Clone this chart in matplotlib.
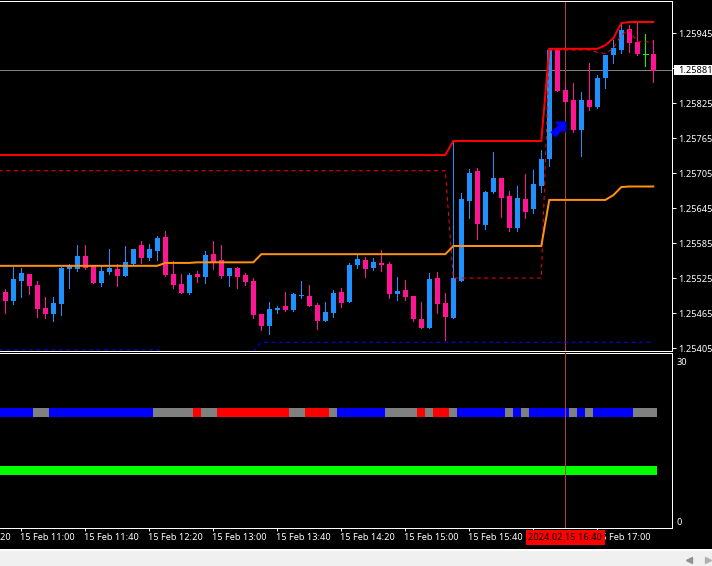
import numpy as np
import matplotlib
matplotlib.use("Agg")
import matplotlib.pyplot as plt
from matplotlib.patches import Rectangle
from matplotlib.path import Path
from matplotlib.transforms import blended_transform_factory

# prices are in points above 1.25000
base = 1.25

highs = [506, 544, 543, 532, 520, 492, 492, 544, 549, 582, 582, 546, 546, 575, 549, 580, 575, 588, 583, 597,
         606, 554, 532, 534, 537, 571, 588, 582, 542, 544, 534, 525, 463, 484, 477, 501, 499, 520, 513, 482,
         484, 504, 508, 551, 564, 561, 559, 573, 552, 527, 522, 494, 484, 534, 535, 499, 758, 671, 712, 714,
         674, 741, 696, 674, 683, 703, 710, 744, 918, 918, 859, 859, 844, 894, 873, 907, 933, 960, 959, 962,
         943, 933]
lows = [465, 480, 492, 498, 458, 456, 451, 462, 508, 537, 540, 516, 511, 532, 511, 528, 549, 551, 556, 556,
        528, 508, 499, 498, 518, 516, 540, 525, 511, 508, 513, 456, 436, 429, 465, 468, 468, 491, 477, 438,
        451, 458, 475, 484, 542, 527, 539, 537, 491, 487, 487, 451, 439, 439, 465, 419, 456, 520, 628, 592,
        609, 671, 630, 606, 606, 628, 636, 672, 717, 846, 827, 775, 734, 813, 816, 851, 894, 911, 912, 907,
        888, 861]
opens = [501, 486, 520, 532, 513, 474, 463, 480, 540, 540, 563, 546, 516, 535, 540, 528, 549, 582, 559, 571,
         595, 532, 515, 499, 532, 527, 566, 556, 528, 542, 530, 520, 463, 443, 470, 477, 470, 494, 494, 479,
         451, 465, 501, 484, 547, 556, 542, 551, 549, 498, 504, 494, 455, 439, 525, 482, 456, 520, 657, 708,
         616, 672, 696, 666, 611, 660, 643, 683, 729, 916, 847, 830, 779, 830, 818, 868, 907, 916, 952, 930,
         909, 909]
closes = [486, 523, 534, 511, 472, 463, 482, 542, 546, 563, 542, 516, 537, 542, 528, 552, 575, 559, 575, 594,
          530, 513, 499, 530, 527, 564, 552, 528, 542, 527, 518, 462, 443, 472, 474, 470, 498, 496, 477, 451,
          467, 499, 482, 547, 558, 540, 552, 547, 498, 503, 492, 455, 439, 523, 480, 458, 525, 660, 705, 618,
          672, 696, 662, 611, 662, 638, 686, 729, 916, 846, 827, 779, 830, 818, 868, 907, 919, 950, 928, 909,
          909, 880]

# channel lines, one value per bar, starting one bar left of the window
upper_line = [736] * 57 + [760] * 12 + [918] * 6 + [918, 924, 936, 962, 964, 964, 964, 964]
lower_dash = [709] * 57 + [525] * 12 + [916] * 6 + [912, 910, 919, 942, 950, 930, 930, 930]
mid_line = [546] * 21 + [551] * 4 + [552] * 8 + [566] * 24 + [580] * 12 + [659] * 8 + [667, 681, 682, 682, 682, 682]
low_dash = [402] * 21 + [398] * 12 + [415] * 50

# 1 blue, -1 red, 0 gray
signal_state = [1] * 5 + [0] * 2 + [1] * 13 + [0] * 5 + [-1] + [0] * 2 + [-1] * 9 + [0] * 2 + [-1] * 3 + [0] \
    + [1] * 6 + [0] * 4 + [-1] + [0] + [-1] * 2 + [0] + [1] * 6 + [0] + [1] + [0] + [1] * 5 + [0] + [1] + [0] \
    + [1] * 5 + [0] * 3
signal_level = 20
trend_level = 10

price_ticks = [1.25945, 1.25885, 1.25825, 1.25765, 1.25705, 1.25645, 1.25585, 1.25525, 1.25465, 1.25405]
current_price = 1.25881
arrow_bar = 69.1
arrow_price = 780
cursor_bar = 70
cursor_label = "2024.02.15 16:40"

time_ticks = [-6, 2, 10, 18, 26, 34, 42, 50, 58, 66, 74]
# the 16:20 label sits under the cursor box, so it is left out
time_bars = [-6, 2, 10, 18, 26, 34, 42, 50, 58, 74]
time_labels = ["15 Feb 10:20", "15 Feb 11:00", "15 Feb 11:40", "15 Feb 12:20", "15 Feb 13:00", "15 Feb 13:40",
               "15 Feb 14:20", "15 Feb 15:00", "15 Feb 15:40", "15 Feb 17:00"]

W, H = 712, 566
BLUE = "#1e90ff"
PINK = "#ff1493"
FONT = "Noto Sans"
FS = 6.6
DPX = 0.72  # one pixel in points


def to_price(v):
    return base + np.asarray(v, dtype=float) * 1e-5


def px_axes(x0, y0, x1, y1):
    return fig.add_axes([x0 / W, (H - y1) / H, (x1 - x0) / W, (y1 - y0) / H])


plt.rcParams["font.family"] = FONT
fig = plt.figure(figsize=(W / 100, H / 100), dpi=100, facecolor="black")

# window chrome below the chart, in plain pixels
chrome = fig.add_axes([0, 0, 1, 1], facecolor="none")
chrome.set_xlim(0, W)
chrome.set_ylim(H, 0)
chrome.axis("off")
chrome.axhspan(551, H, color="#f0f0f0", lw=0)
chrome.axhline(549.5, color="white", lw=DPX * 2)
chrome.plot([689], [560], marker="<", ms=5, color="#909090", ls="none")
chrome.plot([708], [560], marker=">", ms=5, color="#b0b0b0", ls="none")

xlim = (-0.6625, 83.34)
ax = px_axes(0, 0.5, 672, 351)
sub = px_axes(0, 353, 672, 528)
for a in (ax, sub):
    a.set_facecolor("black")
    a.set_xlim(*xlim)
    for name in ("top", "right", "bottom"):
        a.spines[name].set_color("white")
        a.spines[name].set_linewidth(DPX)
    a.spines["left"].set_visible(False)

# price panel
ax.set_ylim(to_price(400), to_price(1000.86))
ax.set_xticks([])
ax.yaxis.tick_right()
ax.set_yticks(price_ticks)
ax.set_yticklabels([f"{p:.5f}" for p in price_ticks], fontsize=FS, color="white")
ax.tick_params(axis="y", length=3, width=DPX, color="white", pad=1.5)

bars = np.arange(len(highs))
line_bars = np.arange(len(upper_line)) - 1
for i in bars:
    if closes[i] > opens[i]:
        col = BLUE
    elif closes[i] < opens[i]:
        col = PINK
    else:
        col = "#00ff00"
    ax.vlines(i, to_price(lows[i]), to_price(highs[i]), color=col, lw=DPX, antialiased=False, zorder=2)
    if opens[i] == closes[i]:
        ax.hlines(to_price(opens[i]), i - 0.31, i + 0.31, color=col, lw=DPX, antialiased=False, zorder=2)
    else:
        lo, hi = sorted((opens[i], closes[i]))
        ax.bar(i, to_price(hi) - to_price(lo), bottom=to_price(lo), width=0.625, color=col, lw=0,
               antialiased=False, zorder=2)

ax.axhline(current_price, color="#808080", lw=DPX, zorder=1)
ax.axvline(cursor_bar, color="#b83a3a", lw=DPX, zorder=1.5)

ax.plot(line_bars, to_price(lower_dash), color="#ff0000", lw=DPX, ls=(0, (4, 3.5)), zorder=3)
ax.plot(line_bars, to_price(low_dash), color="#0000ff", lw=DPX, ls=(0, (4, 3.5)), zorder=3)
ax.plot(line_bars, to_price(mid_line), color="#ff9010", lw=DPX * 2, zorder=4, solid_joinstyle="miter")
ax.plot(line_bars, to_price(upper_line), color="#ff0000", lw=DPX * 2, zorder=4, solid_joinstyle="miter")

arrow_shape = Path([(1, 1), (1, -0.5), (0.55, -0.05), (-0.35, -1), (-1, -0.35), (-0.05, 0.55), (-0.5, 1), (1, 1)], closed=True)
ax.plot([arrow_bar], [to_price(arrow_price)], marker=arrow_shape, ms=11.5, color="#0000ff", mew=0, zorder=5)

# current price tag on the axis
tag_trans = blended_transform_factory(ax.transAxes, ax.transData)
ax.add_patch(Rectangle((1.0 + 1.5 / 672, current_price - 8.6e-5), 0.06, 17.2e-5, transform=tag_trans,
                       fc="white", ec="none", clip_on=False, zorder=9))
ax.text(1.0 + 6 / 672, current_price, f"{current_price:.5f}", transform=tag_trans, ha="left", va="center",
        fontsize=FS, color="black", clip_on=False, zorder=10)

# signal panel
sub.set_ylim(0.15, 30.15)
sub.set_yticks([])
colors = {1: "#0000ff", -1: "#ff0000", 0: "#808080"}
sub.bar(line_bars, 1.56, bottom=signal_level - 0.78, width=1.0, color=[colors[s] for s in signal_state], lw=0, antialiased=False)
sub.bar(line_bars, 1.56, bottom=trend_level - 0.78, width=1.0, color="#00ff00", lw=0, antialiased=False)
sub.axvline(cursor_bar, color="#b83a3a", lw=DPX, zorder=5)
for txt, yf, dy, va in (("30", 1.0, -3.5, "top"), ("0", 0.0, 1, "bottom")):
    sub.annotate(txt, (1.0, yf), xycoords="axes fraction", xytext=(3, dy), textcoords="offset points",
                 va=va, ha="left", fontsize=FS, color="white", annotation_clip=False)

# time axis
sub.set_xticks([b for b in time_ticks if xlim[0] <= b <= xlim[1]])
sub.set_xticklabels([])
sub.tick_params(axis="x", length=2.2, width=DPX, color="white")
time_trans = blended_transform_factory(sub.transData, fig.transFigure)
label_y = (H - 537.5) / H
for b, lab in zip(time_bars, time_labels):
    sub.text(b - 0.16, label_y, lab, transform=time_trans, ha="left", va="center", fontsize=FS, color="white",
             clip_on=False, zorder=6)
sub.text(cursor_bar, label_y, cursor_label, transform=time_trans, ha="center", va="center", fontsize=FS,
         color="black", clip_on=False, zorder=7,
         bbox=dict(boxstyle="square,pad=0.3", fc="#ff0000", ec="none"))

fig.savefig("out.png", dpi=100, facecolor=fig.get_facecolor())
